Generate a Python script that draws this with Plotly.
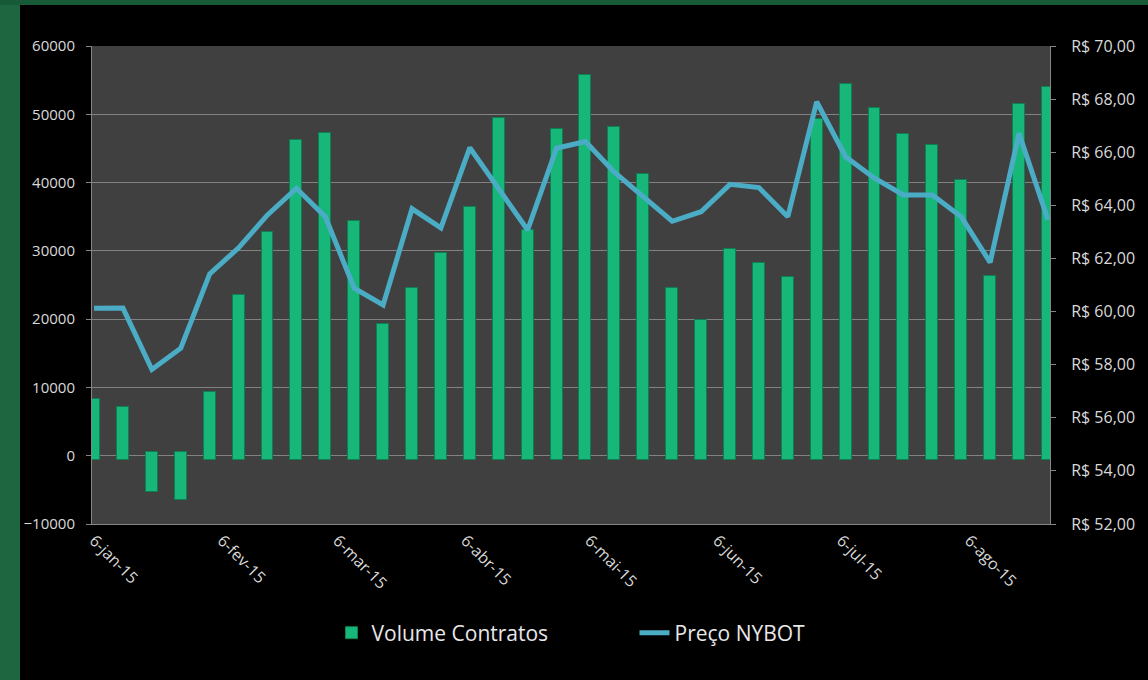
import numpy as np
import plotly.graph_objects as go

# weekly data
datas = [
    "2015-01-06", "2015-01-13", "2015-01-20", "2015-01-27",
    "2015-02-03", "2015-02-10", "2015-02-17", "2015-02-24",
    "2015-03-03", "2015-03-10", "2015-03-17", "2015-03-24", "2015-03-31",
    "2015-04-07", "2015-04-14", "2015-04-21", "2015-04-28",
    "2015-05-05", "2015-05-12", "2015-05-19", "2015-05-26",
    "2015-06-02", "2015-06-09", "2015-06-16", "2015-06-23", "2015-06-30",
    "2015-07-07", "2015-07-14", "2015-07-21", "2015-07-28",
    "2015-08-04", "2015-08-11", "2015-08-18", "2015-08-25",
]
volume_contratos = [
    8250, 7090, -5360, -6490,
    9370, 23600, 32800, 46200,
    47230, 34370, 19250, 24600, 29700,
    36450, 49480, 33000, 47900,
    55740, 48150, 41300, 24550,
    19850, 30250, 28250, 26200, 49300,
    54450, 50880, 47150, 45500,
    40360, 26280, 51500, 54000,
]
preco_nybot = [
    60.12, 60.13, 57.82, 58.62,
    61.42, 62.40, 63.64, 64.64,
    63.57, 60.88, 60.25, 63.87, 63.15,
    66.17, 64.62, 63.07, 66.15,
    66.40, 65.25, 64.35, 63.40,
    63.76, 64.79, 64.67, 63.57, 67.90,
    65.83, 65.02, 64.39, 64.39,
    63.57, 61.85, 66.71, 63.46,
]

tick_datas = ["2015-01-06", "2015-02-06", "2015-03-06", "2015-04-06",
              "2015-05-06", "2015-06-06", "2015-07-06", "2015-08-06"]
tick_textos = ["6-jan-15", "6-fev-15", "6-mar-15", "6-abr-15",
               "6-mai-15", "6-jun-15", "6-jul-15", "6-ago-15"]

vol = np.array(volume_contratos)
# bevel look: bars run a little past the zero line, like the excel render
base = np.where(vol > 0, -700, 550)

W, H = 1148, 680
ml, mr, mt, mb = 92, 98, 46, 156
pw, ph = W - ml - mr, H - mt - mb

fig = go.Figure()
fig.add_trace(
    go.Bar(
        x=datas,
        y=vol - base,
        base=base,
        name="Volume Contratos",
        width=2.9 * 86400000,
        marker=dict(color="#17b77a", line=dict(color="#0e7f50", width=1)),
    )
)
fig.add_trace(
    go.Scatter(
        x=datas,
        y=preco_nybot,
        name="Preço NYBOT",
        mode="lines",
        yaxis="y2",
        line=dict(color="#4bacc6", width=5),
    )
)

axis_font = dict(family="Open Sans", size=15, color="#d9d9d9")
big_font = dict(family="Open Sans", size=16, color="#d9d9d9")
fig.update_layout(
    width=W,
    height=H,
    margin=dict(l=ml, r=mr, t=mt, b=mb),
    paper_bgcolor="#000000",
    plot_bgcolor="#404040",
    separators=",.",
    font=dict(family="Open Sans", color="#d9d9d9"),
    bargap=0,
    xaxis=dict(
        type="date",
        range=["2015-01-05 12:00", "2015-08-25 12:00"],
        tickvals=tick_datas,
        ticktext=tick_textos,
        tickangle=45,
        tickfont=big_font,
        showgrid=False,
        showline=True,
        linecolor="#868686",
        linewidth=1,
        ticks="",
    ),
    yaxis=dict(
        range=[-10000, 60000],
        dtick=10000,
        tickformat="d",
        tickfont=axis_font,
        gridcolor="#828282",
        gridwidth=1,
        zeroline=False,
        showline=True,
        linecolor="#868686",
        ticks="outside",
        ticklen=5,
        tickcolor="#868686",
        ticklabelstandoff=8,
    ),
    yaxis2=dict(
        overlaying="y",
        side="right",
        range=[52, 70],
        dtick=2,
        tickformat=".2f",
        tickprefix="R$ ",
        tickfont=big_font,
        showgrid=False,
        zeroline=False,
        showline=True,
        linecolor="#868686",
        ticks="outside",
        ticklen=5,
        tickcolor="#868686",
        ticklabelstandoff=12,
    ),
    legend=dict(
        orientation="h",
        x=0.25,
        xanchor="left",
        y=(mt + ph - 633) / ph,
        yanchor="middle",
        font=dict(family="Open Sans", size=21, color="#e8e8e8"),
        entrywidth=258,
        entrywidthmode="pixels",
        bgcolor="rgba(0,0,0,0)",
    ),
    shapes=[
        # green frame on the left and top
        dict(type="rect", xref="paper", yref="paper",
             x0=-ml / pw, x1=(20 - ml) / pw, y0=-mb / ph, y1=(ph + mt) / ph,
             fillcolor="#1d6640", line_width=0),
        dict(type="rect", xref="paper", yref="paper",
             x0=-ml / pw, x1=(W - ml) / pw, y0=(ph + mt - 5) / ph, y1=(ph + mt) / ph,
             fillcolor="#175a37", line_width=0),
    ],
)

fig.write_html(
    "out.html",
    config={"displayModeBar": False},
    post_script="document.body.style.margin='0';",
)
